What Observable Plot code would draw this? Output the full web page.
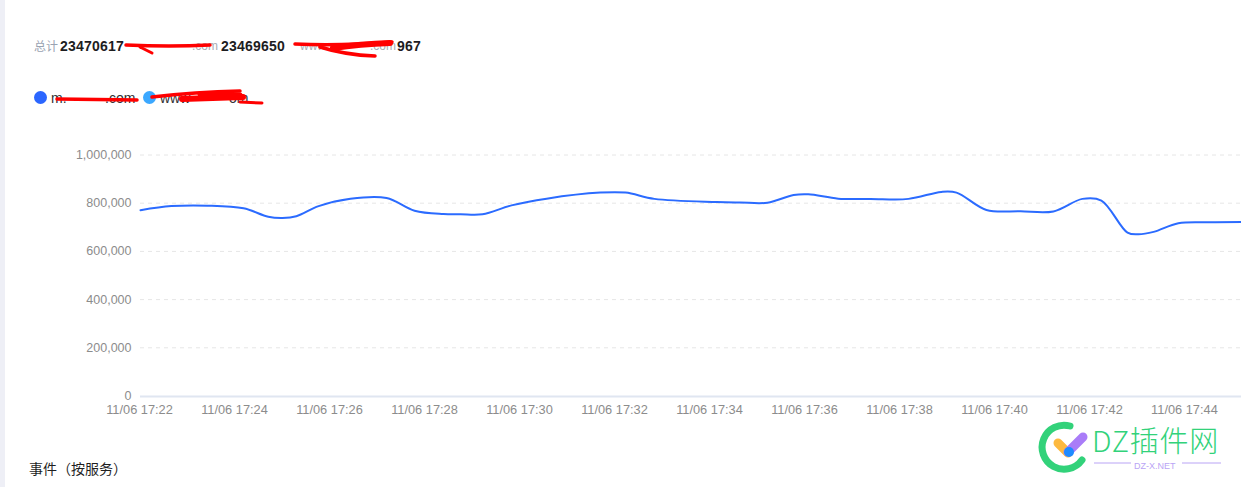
<!DOCTYPE html>
<html><head><meta charset="utf-8">
<script src="https://cdn.jsdelivr.net/npm/d3@7"></script>
<script src="https://cdn.jsdelivr.net/npm/@observablehq/plot@0.6"></script>
<style>
html,body{margin:0;padding:0;background:#fff;overflow:hidden;width:1241px;height:487px;font-family:"Liberation Sans",Arial,sans-serif}
#strip{position:absolute;left:0;top:0;width:5px;height:487px;background:#eeeff6}
#chart{position:absolute;left:0;top:0}
.t{position:absolute;white-space:nowrap;line-height:16px}
.g{font-size:12px;color:#a9adb5}
.b{font-size:14px;font-weight:700;color:#1d1d1f;letter-spacing:.2px}
.l{font-size:14px;color:#303133}
.d{position:absolute;width:13px;height:13px;border-radius:50%}
svg.o{position:absolute;left:0;top:0;pointer-events:none}
</style></head><body>
<div id="strip"></div>
<div id="chart"></div>
<div class="t g" style="left:34px;top:38px;color:#9aa3b2;font-family:'Noto Sans CJK SC'">总计</div>
<div class="t b" style="left:60px;top:38px" id="total"></div>
<div class="t g" style="left:192px;top:38px">.com</div>
<div class="t b" style="left:221px;top:38px" id="s1"></div>
<div class="t g" style="left:300px;top:38px">www</div>
<div class="t g" style="left:370px;top:38px">.com</div>
<div class="t b" style="left:397px;top:38px" id="s2"></div>
<div class="d" style="left:34px;top:91px;background:#2b66ff"></div>
<div class="t l" style="left:51px;top:90px">m.</div>
<div class="t l" style="left:105px;top:90px">.com</div>
<div class="d" style="left:143px;top:91px;background:#3ba8ff"></div>
<div class="t l" style="left:160px;top:90px">www</div>
<div class="t l" style="left:229px;top:90px">om</div>
<div class="t" style="left:29px;top:460px;font-size:14px;color:#1f1f1f;font-family:'Noto Sans CJK SC'">事件（按服务）</div>
<svg class="o" width="1241" height="487" fill="none" stroke-linecap="round">
 <g stroke="#f00">
  <path d="M126 45 Q170 47 210 45" stroke-width="3.5"/><path d="M140 47 L152 53" stroke-width="3"/>
  <path d="M295 44 Q340 46 392 42" stroke-width="3.5"/><path d="M320 47 Q345 55 375 56" stroke-width="3.5"/><path d="M333 48 Q360 44 390 43" stroke-width="6"/>
  <path d="M57 99 L137 100" stroke-width="3.5"/>
  <path d="M152 97 Q195 92 240 91" stroke-width="3.5"/><path d="M182 99 L243 97" stroke-width="6"/><path d="M200 94 L240 95" stroke-width="5"/><path d="M240 102 L262 103" stroke-width="3"/>
 </g>
 <path d="M1070 426 A22 22 0 1 0 1082 460" stroke="#32d27a" stroke-width="7"/>
 <path d="M1058 443 L1068 453" stroke="#fdb93f" stroke-width="9"/>
 <path d="M1068 452 L1083 437" stroke="#a97cf8" stroke-width="9"/>
 <circle cx="1069" cy="452" r="5" fill="#1e8bff"/>
 <path d="M1094 463 H1131 M1182 463 H1221" stroke="#b9a4f5" stroke-width="1" stroke-linecap="butt"/>
</svg>
<div class="t" style="left:1092px;top:426px;font-size:29px;line-height:26px;color:#32d27a;font-family:'Noto Sans CJK SC';letter-spacing:.8px;font-weight:300">DZ插件网</div>
<div class="t" style="left:1134px;top:461px;font-size:9px;line-height:10px;color:#b9a4f5">DZ-X.NET</div>
<script>
const totals = [23470617, 23469650, 967];
const yTicks = [0, 200000, 400000, 600000, 800000, 1000000];
const tickMinutes = [0, 2, 4, 6, 8, 10, 12, 14, 16, 18, 20, 22];
const minutes = [0,.65,1.41,2.17,2.69,2.99,3.28,3.75,4.42,5.18,5.77,6.38,6.74,7.2,7.81,8.55,9.68,10.21,10.82,12.13,12.63,13.2,13.75,14.06,14.69,15.37,16.17,16.86,17.18,17.81,18.53,19.22,19.83,20.23,20.78,21.01,21.33,21.85,22.5,23.18];
const events = [773000,790000,792000,781000,746000,741000,748000,790000,821000,824000,771000,757000,756000,756000,793000,821000,846000,846000,820000,807000,805000,804000,836000,839000,821000,820000,820000,849000,846000,774000,769000,768000,820000,813000,680000,673000,683000,719000,723000,724000];

document.getElementById("total").textContent = totals[0];
document.getElementById("s1").textContent = totals[1];
document.getElementById("s2").textContent = totals[2];
const t0 = Date.UTC(2023, 10, 6, 17, 22);
const at = m => new Date(t0 + m * 60000);
const rows = minutes.map((m, i) => ({t: at(m), v: events[i]}));
const chart = Plot.plot({
  width: 1241, height: 487,
  marginLeft: 140, marginRight: 0, marginTop: 155, marginBottom: 91,
  style: {background: "transparent", fontFamily: "'Liberation Sans',Arial,sans-serif", fontSize: "12.5px", overflow: "visible"},
  x: {type: "utc", domain: [at(0), at(minutes[minutes.length - 1])]},
  y: {domain: [0, 1000000]},
  marks: [
    Plot.ruleY(yTicks.slice(1), {stroke: "#e6e6e6", strokeDasharray: "4,4", strokeWidth: 1, dy: -0.5}),
    Plot.ruleY([0], {stroke: "#e0e6f1", strokeWidth: 2}),
    Plot.axisY({ticks: yTicks, tickSize: 0, tickPadding: 9, tickFormat: d3.format(","), color: "#8c8c8c", label: null, dy: -0.5}),
    Plot.axisX({ticks: tickMinutes.map(at), tickSize: 0, tickPadding: 8, tickFormat: d3.utcFormat("%m/%d %H:%M"), color: "#8c8c8c", label: null, fontSize: 12.8, dx: -1}),
    Plot.line(rows, {x: "t", y: "v", stroke: "#2b6bff", strokeWidth: 2, curve: "catmull-rom"})
  ]
});
document.getElementById("chart").appendChild(chart);
</script>
</body></html>
